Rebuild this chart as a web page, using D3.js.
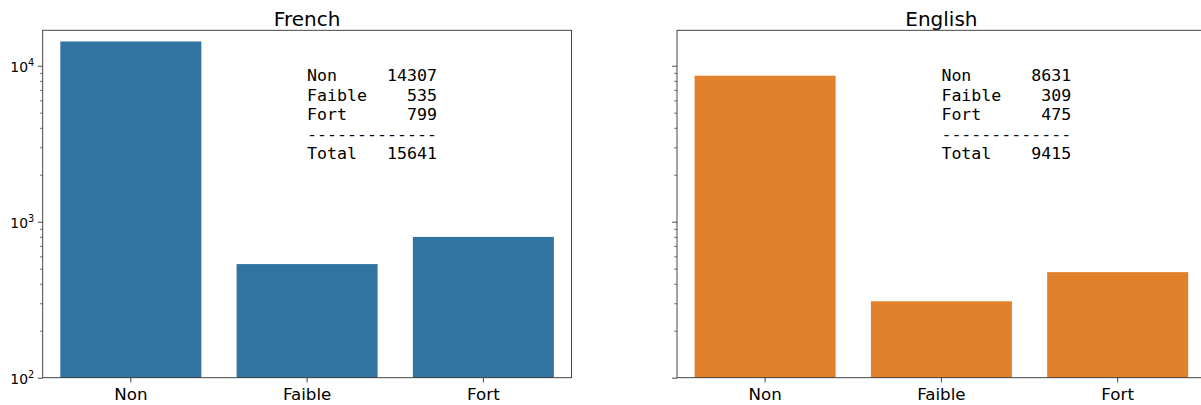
<!DOCTYPE html>
<html><head><meta charset="utf-8">
<script src="https://cdn.jsdelivr.net/npm/d3@7"></script>
<style>body{margin:0;background:#fff}svg{display:block}</style>
</head><body>
<svg id="c" width="1201" height="405"></svg>
<script>
const categories = ["Non", "Faible", "Fort"];
const frenchValues = [14307, 535, 799];
const englishValues = [8631, 309, 475];
const titles = ["French", "English"];
const yTickValues = [100, 1000, 10000];
const yTickExponents = ["2", "3", "4"];
const colors = ["#3274a1", "#e1812c"];

(function () {
const svg = d3.select("#c");
const W = 528.8, axTop = 30.3, axBottom = 377.7;
const lefts = [42.7, 677];
const y = d3.scaleLog().domain([100, 16870]).range([axBottom, axTop]);

function table(vals) {
  const total = d3.sum(vals);
  const pad = (s, n) => String(s).padStart(n, " ");
  const lines = categories.map((c, k) => c.padEnd(7, " ") + pad(vals[k], 6));
  lines.push("-------------");
  lines.push("Total".padEnd(7, " ") + pad(total, 6));
  return lines;
}

[frenchValues, englishValues].forEach((vals, i) => {
  const L = lefts[i];
  const g = svg.append("g");
  const x = d3.scaleBand().domain(categories).range([L, L + W]).paddingInner(0.2).paddingOuter(0.1);
  g.selectAll("rect").data(vals).join("rect")
    .attr("x", (d, k) => x(categories[k]))
    .attr("width", x.bandwidth())
    .attr("y", d => y(d))
    .attr("height", d => y(100) - y(d))
    .attr("fill", colors[i]);
  g.append("rect").attr("x", L).attr("y", axTop).attr("width", W).attr("height", axBottom - axTop)
    .attr("fill", "none").attr("stroke", "#333").attr("stroke-width", 0.9);
  const minor = [];
  for (let e = 2; e <= 4; e++) for (let m = 2; m <= 9; m++) { const v = m * Math.pow(10, e); if (v <= 16870) minor.push(v); }
  const ya = d3.axisLeft(y).tickValues(yTickValues).tickSize(4.9).tickFormat("");
  const yg = g.append("g").attr("transform", `translate(${L},0)`).call(ya);
  yg.select(".domain").remove();
  yg.selectAll("line").attr("stroke", "#333").attr("stroke-width", 0.9);
  const ym = d3.axisLeft(y).tickValues(minor).tickSize(2.8).tickFormat("");
  const ymg = g.append("g").attr("transform", `translate(${L},0)`).call(ym);
  ymg.select(".domain").remove();
  ymg.selectAll("line").attr("stroke", "#333").attr("stroke-width", 0.7);
  if (i === 0) {
    yTickValues.forEach((v, k) => {
      const t = g.append("text").attr("x", L - 8.5).attr("y", y(v) + 6)
        .attr("text-anchor", "end").attr("font-family", "DejaVu Sans").attr("font-size", 13.9).attr("fill", "#000");
      t.append("tspan").text("10");
      t.append("tspan").attr("dy", -6).attr("font-size", 9.7).text(yTickExponents[k]);
    });
  }
  const xa = d3.axisBottom(x).tickSize(4.9).tickPadding(5.5);
  const xg = g.append("g").attr("transform", `translate(0,${axBottom})`).call(xa);
  xg.select(".domain").remove();
  xg.selectAll("line").attr("stroke", "#333").attr("stroke-width", 0.9);
  xg.selectAll("text").attr("font-family", "DejaVu Sans").attr("font-size", 16.7).attr("fill", "#000").attr("dy", "0.71em");
  g.append("text").attr("x", L + W / 2).attr("y", 26).attr("text-anchor", "middle")
    .attr("font-family", "DejaVu Sans").attr("font-size", 20).attr("fill", "#000").text(titles[i]);
  table(vals).forEach((line, k) => {
    g.append("text").attr("x", L + W / 2).attr("y", 81 + k * 19.6)
      .attr("font-family", "DejaVu Sans Mono").attr("font-size", 16.6).attr("fill", "#000")
      .style("white-space", "pre").text(line);
  });
});
})();
</script>
</body></html>
